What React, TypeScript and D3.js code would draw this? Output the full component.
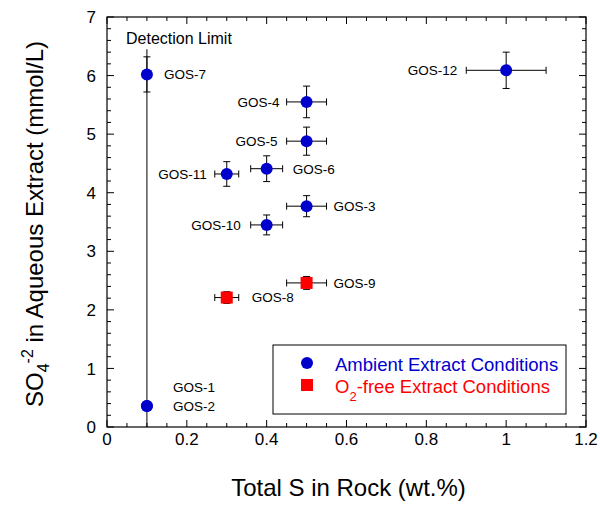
import React from "react";
import * as d3 from "d3";

const samples = ["GOS-7", "GOS-4", "GOS-5", "GOS-6", "GOS-11", "GOS-12", "GOS-3", "GOS-10", "GOS-1", "GOS-2", "GOS-9", "GOS-8"];
const totalS = [0.1, 0.5, 0.5, 0.4, 0.3, 1.0, 0.5, 0.4, 0.1, 0.1, 0.5, 0.3];
const totalSErr = [0, 0.05, 0.05, 0.04, 0.03, 0.1, 0.05, 0.04, 0, 0, 0.05, 0.03];
const sulfate = [6.02, 5.55, 4.88, 4.41, 4.32, 6.09, 3.77, 3.45, 0.36, 0.36, 2.46, 2.21];
const sulfateErr = [0.3, 0.27, 0.24, 0.22, 0.21, 0.31, 0.18, 0.17, 0, 0, 0.11, 0.1];
const condition = ["ambient", "ambient", "ambient", "ambient", "ambient", "ambient", "ambient", "ambient", "ambient", "ambient", "o2free", "o2free"];

// label placement (side and pixel offsets)
const labelSide = ["start", "end", "end", "start", "end", "end", "start", "end", "start", "start", "start", "start"];
const labelDx = [17, -27, -29, 26, -20, -49, 27, -26, 26, 26, 27, 25];
const labelDy = [0, 0, 0, 0, 0, 0, 0, 0, -19, 0, 0, 0];

const detectionLimitX = 0.1;
const detectionLimitTop = 6.45;

const xTicks = [0, 0.2, 0.4, 0.6, 0.8, 1, 1.2];
const yTicks = [0, 1, 2, 3, 4, 5, 6, 7];

const BLUE = "#0000CC";
const RED = "#FF0000";
const FONT = "'Liberation Sans', Arial, Helvetica, sans-serif";

export default function App() {
  const W = 600, H = 505;
  const left = 107, right = 586, top = 17, bottom = 427;
  const x = d3.scaleLinear().domain([0, 1.2]).range([left, right]);
  const y = d3.scaleLinear().domain([0, 7]).range([bottom, top]);

  const xMinor = d3.range(0, 1.2001, 0.05);
  const yMinor = d3.range(0, 7.0001, 0.2);
  const isMajorX = (v: number) => Math.abs(v / 0.2 - Math.round(v / 0.2)) < 1e-6;
  const isMajorY = (v: number) => Math.abs(v - Math.round(v)) < 1e-6;

  const cap = 3.5;
  const r = 6;
  const sq = 12;

  return (
    <svg width={W} height={H} style={{ position: "absolute", left: 0, top: 0, background: "#fff" }} fontFamily={FONT}>
      {/* ticks */}
      {xMinor.map((v, i) => {
        const len = isMajorX(v) ? 7 : 4;
        return (
          <g key={"xt" + i} stroke="#000" strokeWidth={1}>
            <line x1={x(v)} x2={x(v)} y1={bottom} y2={bottom - len} />
            <line x1={x(v)} x2={x(v)} y1={top} y2={top + len} />
          </g>
        );
      })}
      {yMinor.map((v, i) => {
        const len = isMajorY(v) ? 7 : 4;
        return (
          <g key={"yt" + i} stroke="#000" strokeWidth={1}>
            <line x1={left} x2={left + len} y1={y(v)} y2={y(v)} />
            <line x1={right} x2={right - len} y1={y(v)} y2={y(v)} />
          </g>
        );
      })}
      <rect x={left} y={top} width={right - left} height={bottom - top} fill="none" stroke="#000" strokeWidth={1.2} />

      {/* tick labels */}
      {xTicks.map((v) => (
        <text key={"xl" + v} x={x(v)} y={445} textAnchor="middle" fontSize={17} fill="#000">
          {String(v)}
        </text>
      ))}
      {yTicks.map((v) => (
        <text key={"yl" + v} x={96} y={y(v)} dy="0.36em" textAnchor="end" fontSize={17} fill="#000">
          {String(v)}
        </text>
      ))}

      {/* axis titles */}
      <text x={348.5} y={496} textAnchor="middle" fontSize={24} fill="#000">
        Total S in Rock (wt.%)
      </text>
      <text transform={`translate(43, 224) rotate(-90)`} textAnchor="middle" fontSize={24} fill="#000">
        SO<tspan fontSize={16} dy={6}>4</tspan>
        <tspan fontSize={16} dy={-16}>-2</tspan>
        <tspan dy={10}> in Aqueous Extract (mmol/L)</tspan>
      </text>

      {/* detection limit */}
      <line x1={x(detectionLimitX)} x2={x(detectionLimitX)} y1={y(0)} y2={y(detectionLimitTop)} stroke="#000" strokeWidth={1} />
      <text x={126} y={44} fontSize={16} fill="#000">Detection Limit</text>

      {/* error bars */}
      {samples.map((s, i) => {
        const cx = x(totalS[i]);
        const cy = y(sulfate[i]);
        return (
          <g key={"eb" + s} stroke="#000" strokeWidth={1}>
            {sulfateErr[i] > 0 && (
              <>
                <line x1={cx} x2={cx} y1={y(sulfate[i] - sulfateErr[i])} y2={y(sulfate[i] + sulfateErr[i])} />
                <line x1={cx - cap} x2={cx + cap} y1={y(sulfate[i] - sulfateErr[i])} y2={y(sulfate[i] - sulfateErr[i])} />
                <line x1={cx - cap} x2={cx + cap} y1={y(sulfate[i] + sulfateErr[i])} y2={y(sulfate[i] + sulfateErr[i])} />
              </>
            )}
            {totalSErr[i] > 0 && (
              <>
                <line x1={x(totalS[i] - totalSErr[i])} x2={x(totalS[i] + totalSErr[i])} y1={cy} y2={cy} />
                <line x1={x(totalS[i] - totalSErr[i])} x2={x(totalS[i] - totalSErr[i])} y1={cy - cap} y2={cy + cap} />
                <line x1={x(totalS[i] + totalSErr[i])} x2={x(totalS[i] + totalSErr[i])} y1={cy - cap} y2={cy + cap} />
              </>
            )}
          </g>
        );
      })}

      {/* markers */}
      {samples.map((s, i) => {
        const cx = x(totalS[i]);
        const cy = y(sulfate[i]);
        return condition[i] === "ambient" ? (
          <circle key={"m" + s} cx={cx} cy={cy} r={r} fill={BLUE} />
        ) : (
          <rect key={"m" + s} x={cx - sq / 2} y={cy - sq / 2} width={sq} height={sq} fill={RED} />
        );
      })}

      {/* labels */}
      {samples.map((s, i) => (
        <text
          key={"l" + s}
          x={x(totalS[i]) + labelDx[i]}
          y={y(sulfate[i]) + labelDy[i]}
          dy="0.36em"
          textAnchor={labelSide[i]}
          fontSize={13.5}
          fill="#000"
        >
          {s}
        </text>
      ))}

      {/* legend */}
      <rect x={273} y={345} width={293} height={69} fill="#fff" stroke="#000" strokeWidth={1} />
      <circle cx={307} cy={363} r={6} fill={BLUE} />
      <rect x={301} y={379} width={12} height={12} fill={RED} />
      <text x={335} y={371} fontSize={18.5} fill={BLUE}>Ambient Extract Conditions</text>
      <text x={335} y={393} fontSize={18.5} fill={RED}>
        O<tspan fontSize={13} dy={8}>2</tspan>
        <tspan dy={-8}>-free Extract Conditions</tspan>
      </text>
    </svg>
  );
}
